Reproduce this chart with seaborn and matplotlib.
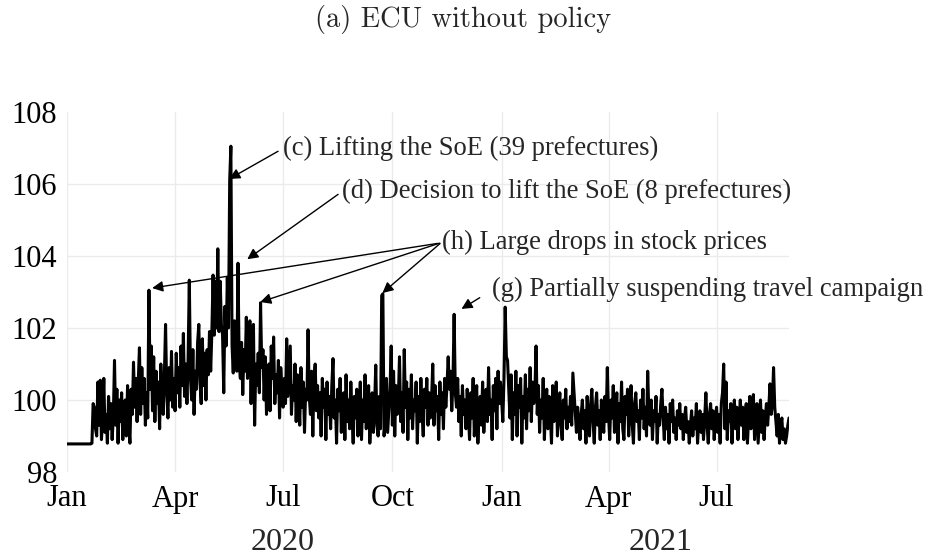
import matplotlib
matplotlib.use("Agg")
import matplotlib.pyplot as plt
import matplotlib.dates as mdates
import seaborn as sns
import numpy as np
import pandas as pd


sns.set_theme(style="white")
plt.rcParams["font.family"] = ["Liberation Serif", "DejaVu Serif"]


# daily ECU index
jan20 = [98.78, 98.78, 98.78, 98.78, 98.78, 98.78, 98.78, 98.78, 98.78, 98.78,
         98.78, 98.78, 98.78, 98.78, 98.78, 98.78, 98.78, 98.78, 98.78, 98.78,
         98.78, 98.8, 99.9, 99.8, 99.2, 99.0, 100.5, 99.3, 100.55, 98.9, 99.5]
feb20 = [100.6, 99.1, 99.6, 98.8, 100.1, 99.2, 99.9, 98.9, 99.5, 101.1,
         99.3, 100.3, 98.8, 100.0, 99.4, 100.2, 98.9, 99.8, 100.0, 99.0,
         100.4, 99.3, 98.8, 100.3, 99.6, 101.05, 99.8, 100.6, 99.4]
mar20 = [100.5, 101.45, 99.6, 100.9, 99.9, 100.6, 99.3, 100.2, 99.5, 103.05,
         100.3, 101.5, 99.7, 101.2, 99.4, 100.8, 99.9, 100.5, 99.2, 101.0,
         100.1, 99.6, 100.7, 102.1, 100.2, 99.5, 100.9, 100.0, 101.35, 99.8, 100.6]
apr20 = [99.7, 101.3, 100.2, 100.9, 99.8, 101.5, 100.4, 101.85, 100.1, 101.0,
         99.9, 101.2, 103.33, 100.6, 100.0, 101.4, 99.6, 100.8, 100.3, 101.6,
         102.1, 100.5, 99.9, 101.7, 100.4, 101.3, 100.0, 101.4, 100.7, 101.9]
may20 = [100.8, 101.9, 103.47, 101.8, 103.3, 102.0, 104.2, 101.9, 103.3, 102.1,
         101.8, 100.2, 102.6, 101.5, 103.4, 102.0, 106.1, 107.05, 101.5, 100.75,
         102.2, 101.1, 100.8, 103.8, 101.0, 100.6, 101.6, 100.15, 101.4, 100.8, 102.3]
jun20 = [100.6, 101.3, 102.2, 99.9, 101.8, 102.1, 99.3, 101.0, 100.4, 101.3,
         100.2, 102.7, 100.9, 101.4, 100.0, 101.2, 99.6, 100.8, 101.0, 99.7,
         101.5, 100.6, 101.75, 99.9, 100.7, 100.2, 101.1, 99.5, 100.9, 100.3]
jul20 = [99.8, 100.6, 99.9, 101.7, 100.1, 100.8, 101.5, 99.6, 100.4, 100.0,
         101.0, 99.4, 100.7, 100.2, 99.3, 100.9, 99.8, 100.5, 99.1, 100.3,
         100.0, 101.95, 100.1, 99.6, 100.8, 99.0, 100.6, 101.0, 99.7, 100.4, 99.5]
aug20 = [100.2, 99.0, 100.6, 99.8, 100.3, 98.9, 100.5, 99.6, 100.1, 99.2,
         100.4, 101.15, 99.5, 100.0, 98.8, 100.3, 99.7, 100.6, 99.1, 99.9,
         100.2, 98.9, 100.7, 99.4, 100.0, 99.2, 100.5, 99.6, 98.8, 100.1, 99.5]
sep20 = [100.3, 99.0, 99.8, 100.5, 98.9, 100.0, 99.4, 100.7, 99.2, 99.9,
         100.4, 98.8, 99.6, 100.2, 99.1, 99.8, 100.97, 99.3, 99.0, 100.1,
         99.2, 102.9, 102.95, 99.0, 99.4, 100.6, 99.1, 99.7, 100.3, 101.5]
oct20 = [99.3, 100.8, 99.0, 100.4, 99.6, 100.0, 101.2, 99.4, 100.2, 99.1,
         101.4, 99.8, 100.5, 98.9, 100.3, 99.5, 100.7, 99.2, 100.0, 99.7,
         100.5, 98.8, 100.1, 99.4, 100.6, 99.6, 99.0, 100.3, 99.8, 100.6, 99.3]
nov20 = [100.2, 99.5, 100.0, 101.0, 99.3, 100.4, 99.7, 100.1, 98.9, 100.5,
         99.6, 100.2, 99.2, 100.6, 99.8, 100.4, 101.2, 100.3, 100.8, 99.7,
         100.5, 102.38, 100.2, 99.8, 100.6, 99.4, 100.1, 99.0, 100.4, 99.6]
dec20 = [100.0, 99.2, 100.3, 99.6, 98.9, 100.2, 99.5, 100.6, 99.0, 99.8,
         100.4, 98.8, 99.7, 100.1, 99.3, 100.5, 99.1, 99.9, 100.3, 99.4,
         100.9, 99.6, 100.0, 98.9, 100.4, 99.7, 100.6, 99.2, 100.8, 99.9, 100.5]
jan21 = [100.0, 99.4, 100.6, 102.58, 101.2, 101.1, 100.3, 99.5, 100.7, 98.9,
         100.2, 99.6, 100.8, 99.0, 100.4, 99.8, 100.6, 98.8, 100.1, 99.5,
         100.7, 99.2, 100.3, 99.7, 100.9, 99.4, 100.5, 99.9, 100.2, 101.5, 99.6]
feb21 = [100.4, 99.1, 100.0, 99.5, 100.6, 98.9, 99.8, 100.3, 99.2, 100.1,
         99.6, 98.8, 100.4, 99.4, 99.9, 100.5, 99.0, 99.7, 100.2, 99.3,
         98.9, 100.0, 99.5, 100.3, 99.2, 99.8, 99.4, 100.1]
mar21 = [99.3, 100.75, 100.2, 99.6, 99.1, 99.8, 99.4, 98.9, 99.6, 100.0,
         99.2, 99.7, 98.8, 100.1, 99.5, 99.0, 99.9, 100.3, 99.4, 98.8,
         99.8, 100.2, 99.3, 99.7, 98.9, 100.0, 99.5, 99.1, 100.1, 99.4, 100.9]
apr21 = [99.6, 98.9, 100.0, 99.5, 100.4, 99.1, 99.7, 100.2, 98.8, 99.9,
         99.4, 100.5, 99.2, 98.9, 100.1, 99.6, 100.3, 99.0, 99.8, 100.4,
         99.3, 98.8, 99.9, 100.2, 99.4, 99.7, 98.9, 100.0, 99.5, 100.3]
may21 = [99.2, 99.8, 99.0, 100.8, 99.6, 99.3, 100.0, 98.9, 99.7, 99.4,
         100.1, 98.8, 99.6, 99.3, 99.9, 100.3, 99.5, 98.9, 99.8, 99.2,
         99.6, 98.8, 99.9, 99.4, 100.0, 99.1, 99.5, 98.9, 99.7, 99.3, 99.9]
jun21 = [99.2, 99.6, 98.9, 99.5, 99.8, 99.1, 99.4, 98.8, 99.3, 99.7,
         99.0, 99.5, 99.2, 99.9, 98.8, 99.4, 99.7, 99.1, 99.6, 98.9,
         99.5, 100.2, 99.3, 98.8, 99.6, 99.9, 99.2, 99.7, 98.9, 99.5]
jul21 = [99.8, 99.1, 99.6, 98.8, 99.9, 100.2, 101.0, 99.2, 100.5, 98.9,
         99.7, 99.4, 99.9, 98.8, 99.6, 100.0, 99.2, 99.8, 98.9, 99.5,
         100.0, 99.3, 99.8, 98.9, 99.6, 99.9, 98.8, 99.5, 100.1, 99.2, 99.7]
aug21 = [100.15, 98.9, 99.6, 99.9, 98.8, 99.4, 100.0, 99.1, 99.7, 98.9,
         99.5, 99.9, 99.3, 99.8, 100.45, 99.6, 99.9, 100.9, 99.8, 99.4,
         99.0, 99.6, 98.8, 99.3, 99.5, 98.9, 99.2, 98.8, 99.0, 99.3, 99.5]

months = [jan20, feb20, mar20, apr20, may20, jun20, jul20, aug20, sep20, oct20, nov20, dec20,
          jan21, feb21, mar21, apr21, may21, jun21, jul21, aug21]
ecu = [v for m in months for v in m]
dates = pd.date_range("2020-01-01", periods=len(ecu), freq="D")

yticks = [98, 100, 102, 104, 106, 108]
years = ["2020", "2021"]
year_pos = ["2020-07-01", "2021-05-15"]

START = pd.Timestamp("2020-01-01")


def day(d):
    return mdates.date2num(START + pd.Timedelta(days=d))


def plot_ecu(save=True):
    fig = plt.figure(figsize=(9.27, 5.57), dpi=100)
    ax = fig.add_axes([67 / 927, 1 - 472 / 557, 722 / 927, 360 / 557])

    df = pd.DataFrame({"date": dates, "ecu": ecu})
    sns.lineplot(x="date", y="ecu", data=df, color="black", lw=2.2, ax=ax)

    ax.set_xlim(dates[0], dates[-1])
    ax.set_ylim(98, 108)
    ax.set_yticks(yticks)
    ax.xaxis.set_major_locator(mdates.MonthLocator(bymonth=[1, 4, 7, 10]))
    ax.xaxis.set_major_formatter(mdates.DateFormatter("%b"))
    ax.set(xlabel="", ylabel="")

    ax.grid(True, color="#ebebeb", lw=1)
    gl = ax.get_ygridlines()
    gl[0].set_visible(False)
    gl[-1].set_visible(False)
    for s in ax.spines.values():
        s.set_visible(False)
    ax.tick_params(axis="both", length=0, labelsize=22, colors="black")
    ax.tick_params(axis="y", pad=7)
    ax.tick_params(axis="x", pad=9)

    for lab, pos in zip(years, year_pos):
        ax.text(mdates.date2num(pd.Timestamp(pos)), -0.196, lab, transform=ax.get_xaxis_transform(),
                ha="center", va="center", fontsize=23)

    arrow = dict(arrowstyle="-|>", color="black", lw=1, mutation_scale=16, shrinkA=1, shrinkB=0,
                 relpos=(0, 0.5))
    fs = 19.2
    ax.annotate("(c) Lifting the SoE (39 prefectures)", xy=(day(136.6), 106.14),
                xytext=(day(181.5), 106.98), ha="left", va="center", fontsize=fs,
                arrowprops=arrow, annotation_clip=False)
    ax.annotate("(d) Decision to lift the SoE (8 prefectures)", xy=(day(151.8), 103.91),
                xytext=(day(232.0), 105.8), ha="left", va="center", fontsize=fs,
                arrowprops=arrow, annotation_clip=False)
    ax.annotate("(h) Large drops in stock prices", xy=(day(71.7), 103.11),
                xytext=(day(316.0), 104.37), ha="left", va="center", fontsize=fs,
                arrowprops=arrow, annotation_clip=False)
    for tip in [(day(162.7), 102.72), (day(265.6), 102.97)]:
        ax.annotate("", xy=tip, xytext=(day(315.0), 104.37), arrowprops=arrow, annotation_clip=False)
    ax.annotate("(g) Partially suspending travel campaign", xy=(day(332.2), 102.53),
                xytext=(day(358.3), 103.06), ha="left", va="center", fontsize=fs,
                arrowprops=dict(arrow, shrinkA=8), annotation_clip=False)

    fig.text(0.5, 1 - 20 / 557, "(a) ECU without policy", family="cmr10", fontsize=20.5,
             ha="center", va="center")

    if save:
        plt.savefig("out.png", dpi=100)
    else:
        plt.show()

    plt.clf()


if __name__ == "__main__":
    plot_ecu(True)
